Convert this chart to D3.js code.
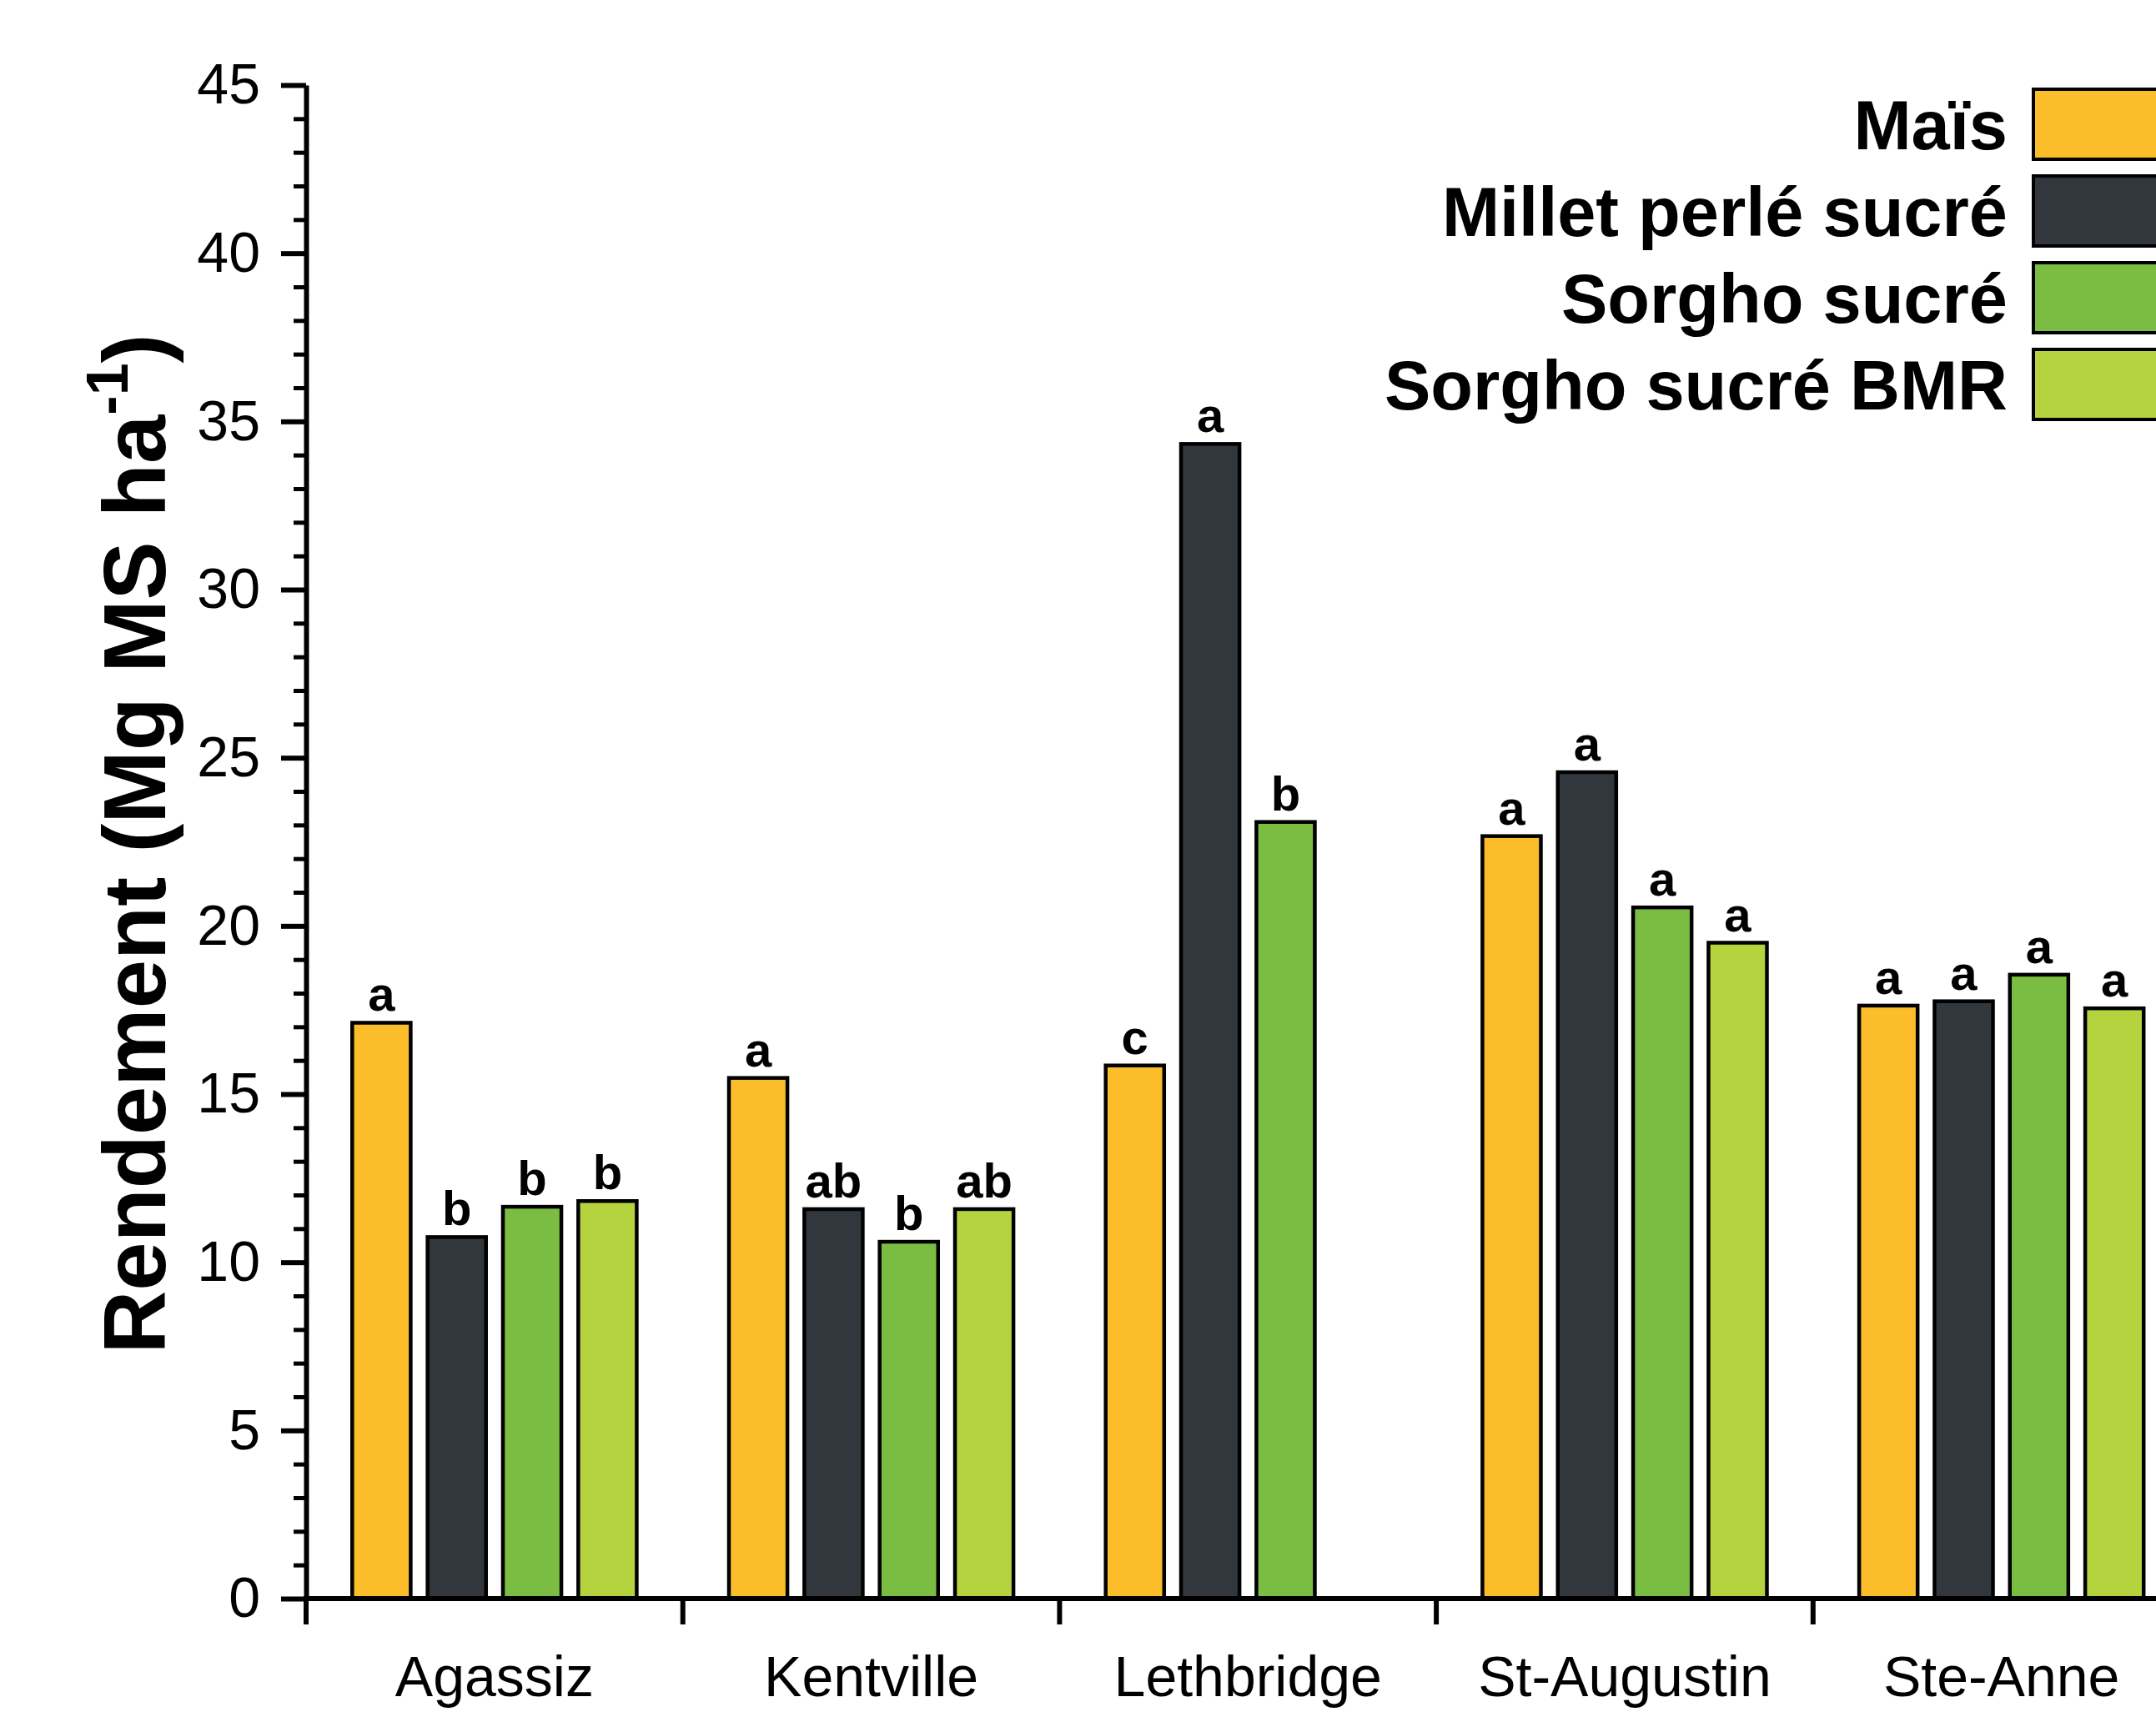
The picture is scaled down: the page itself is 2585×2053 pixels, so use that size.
<!DOCTYPE html>
<html>
<head>
<meta charset="utf-8">
<script src="https://cdn.jsdelivr.net/npm/d3@7"></script>
<style>
  html, body { margin: 0; padding: 0; background: #fff; overflow: hidden; }
  svg { display: block; font-family: "Liberation Sans", Arial, Helvetica, sans-serif; }
</style>
</head>
<body>
<svg id="chart" width="2585" height="2053"></svg>
<script>
// Sites (x categories) and crops (series)
const categories = ["Agassiz", "Kentville", "Lethbridge", "St-Augustin", "Ste-Anne"];
const seriesNames = ["Maïs", "Millet perlé sucré", "Sorgho sucré", "Sorgho sucré BMR"];
const seriesColors = ["#FBBD29", "#31373D", "#7BBD42", "#B5D33E"];

// Dry-matter yield (Mg MS ha-1) per site, one array per crop
const maisValues   = [17.12, 15.48, 15.85, 22.67, 17.63];
const milletValues = [10.75, 11.58, 34.33, 24.57, 17.76];
const sorghoValues = [11.65, 10.61, 23.09, 20.55, 18.55];
const bmrValues    = [11.82, 11.58, null, 19.50, 17.55];

// Mean-separation letters per site, one array per crop
const maisLetters   = ["a", "a", "c", "a", "a"];
const milletLetters = ["b", "ab", "a", "a", "a"];
const sorghoLetters = ["b", "b", "b", "a", "a"];
const bmrLetters    = ["b", "ab", null, "a", "a"];

const yMajorTicks = [0, 5, 10, 15, 20, 25, 30, 35, 40, 45];
const yTitle = "Rendement (Mg MS ha";
const yTitleSup = "-1";

const valuesBySeries = [maisValues, milletValues, sorghoValues, bmrValues];
const lettersBySeries = [maisLetters, milletLetters, sorghoLetters, bmrLetters];

const rows = [];
seriesNames.forEach((s, si) => {
  categories.forEach((c, ci) => {
    const v = valuesBySeries[si][ci];
    if (v != null) rows.push({ cat: c, series: s, si, value: v, letter: lettersBySeries[si][ci] });
  });
});

const svg = d3.select("#chart");
const plotLeft = 367, plotTop = 102, plotBottom = 1917;
const bandStep = 451.7;

const x = d3.scaleBand().domain(categories).range([plotLeft, plotLeft + bandStep * categories.length]).padding(0);
const x1 = d3.scaleBand().domain(seriesNames).range([0, x.bandwidth()]).paddingInner(0.18).paddingOuter(0.59);
const y = d3.scaleLinear().domain([0, 45]).range([plotBottom, plotTop]);
const color = d3.scaleOrdinal().domain(seriesNames).range(seriesColors);

// Bars
const bars = svg.append("g");
bars.selectAll("rect").data(rows).join("rect")
  .attr("x", d => x(d.cat) + x1(d.series) + 2)
  .attr("width", x1.bandwidth() - 4)
  .attr("y", d => y(d.value))
  .attr("height", d => y(0) - y(d.value))
  .attr("fill", d => color(d.series))
  .attr("stroke", "#000")
  .attr("stroke-width", 4.5);

// Letters above bars
bars.selectAll("text").data(rows).join("text")
  .attr("x", d => x(d.cat) + x1(d.series) + x1.bandwidth() / 2)
  .attr("y", d => y(d.value) - 14)
  .attr("text-anchor", "middle")
  .attr("font-weight", "bold")
  .attr("font-size", 58)
  .text(d => d.letter);

// Y axis: minor ticks
const minorTicks = d3.range(0, 46).filter(v => v % 5 !== 0);
svg.append("g")
  .attr("transform", `translate(${plotLeft},0)`)
  .call(d3.axisLeft(y).tickValues(minorTicks).tickSize(15).tickFormat(""))
  .call(g => g.select(".domain").remove())
  .call(g => g.selectAll("line").attr("stroke", "#000").attr("stroke-width", 5));

// Y axis: major ticks, labels, spine
svg.append("g")
  .attr("transform", `translate(${plotLeft},0)`)
  .call(d3.axisLeft(y).tickValues(yMajorTicks).tickSize(30).tickSizeOuter(0).tickPadding(25))
  .call(g => g.select(".domain").attr("stroke", "#000").attr("stroke-width", 6))
  .call(g => g.selectAll("line").attr("stroke", "#000").attr("stroke-width", 6))
  .call(g => g.selectAll("text").attr("font-size", 68).attr("fill", "#000")
    .attr("font-family", "'Liberation Sans', Arial, sans-serif"));

// X axis: labels at band centres
svg.append("g")
  .attr("transform", `translate(0,${plotBottom})`)
  .call(d3.axisBottom(x).tickSize(0).tickSizeOuter(0).tickPadding(69))
  .call(g => g.select(".domain").attr("stroke", "#000").attr("stroke-width", 6)
    .attr("d", `M${plotLeft - 3},0H2600`))
  .call(g => g.selectAll("text").attr("font-size", 68).attr("fill", "#000")
    .attr("font-family", "'Liberation Sans', Arial, sans-serif"));

// X axis: ticks at band boundaries
const boundaries = categories.map(c => x(c)).concat([x.range()[1]]);
svg.append("g").selectAll("line").data(boundaries).join("line")
  .attr("x1", d => d).attr("x2", d => d)
  .attr("y1", plotBottom).attr("y2", plotBottom + 31)
  .attr("stroke", "#000").attr("stroke-width", 6);

// Y axis title
const title = svg.append("text")
  .attr("transform", `translate(198,1012) rotate(-90)`)
  .attr("text-anchor", "middle")
  .attr("font-weight", "bold")
  .attr("font-size", 105);
title.append("tspan").text(yTitle);
title.append("tspan").attr("dy", -45).attr("font-size", 70).text(yTitleSup);
title.append("tspan").attr("dy", 45).text(")");

// Legend
const legend = svg.append("g");
const legendRow = i => 149 + i * 104;
legend.selectAll("rect").data(seriesNames).join("rect")
  .attr("x", 2438)
  .attr("y", (d, i) => legendRow(i) - 42)
  .attr("width", 200)
  .attr("height", 84)
  .attr("fill", d => color(d))
  .attr("stroke", "#000")
  .attr("stroke-width", 4);
legend.selectAll("text").data(seriesNames).join("text")
  .attr("x", 2407)
  .attr("y", (d, i) => legendRow(i) + 30)
  .attr("text-anchor", "end")
  .attr("font-weight", "bold")
  .attr("font-size", 83)
  .text(d => d);
</script>
</body>
</html>
